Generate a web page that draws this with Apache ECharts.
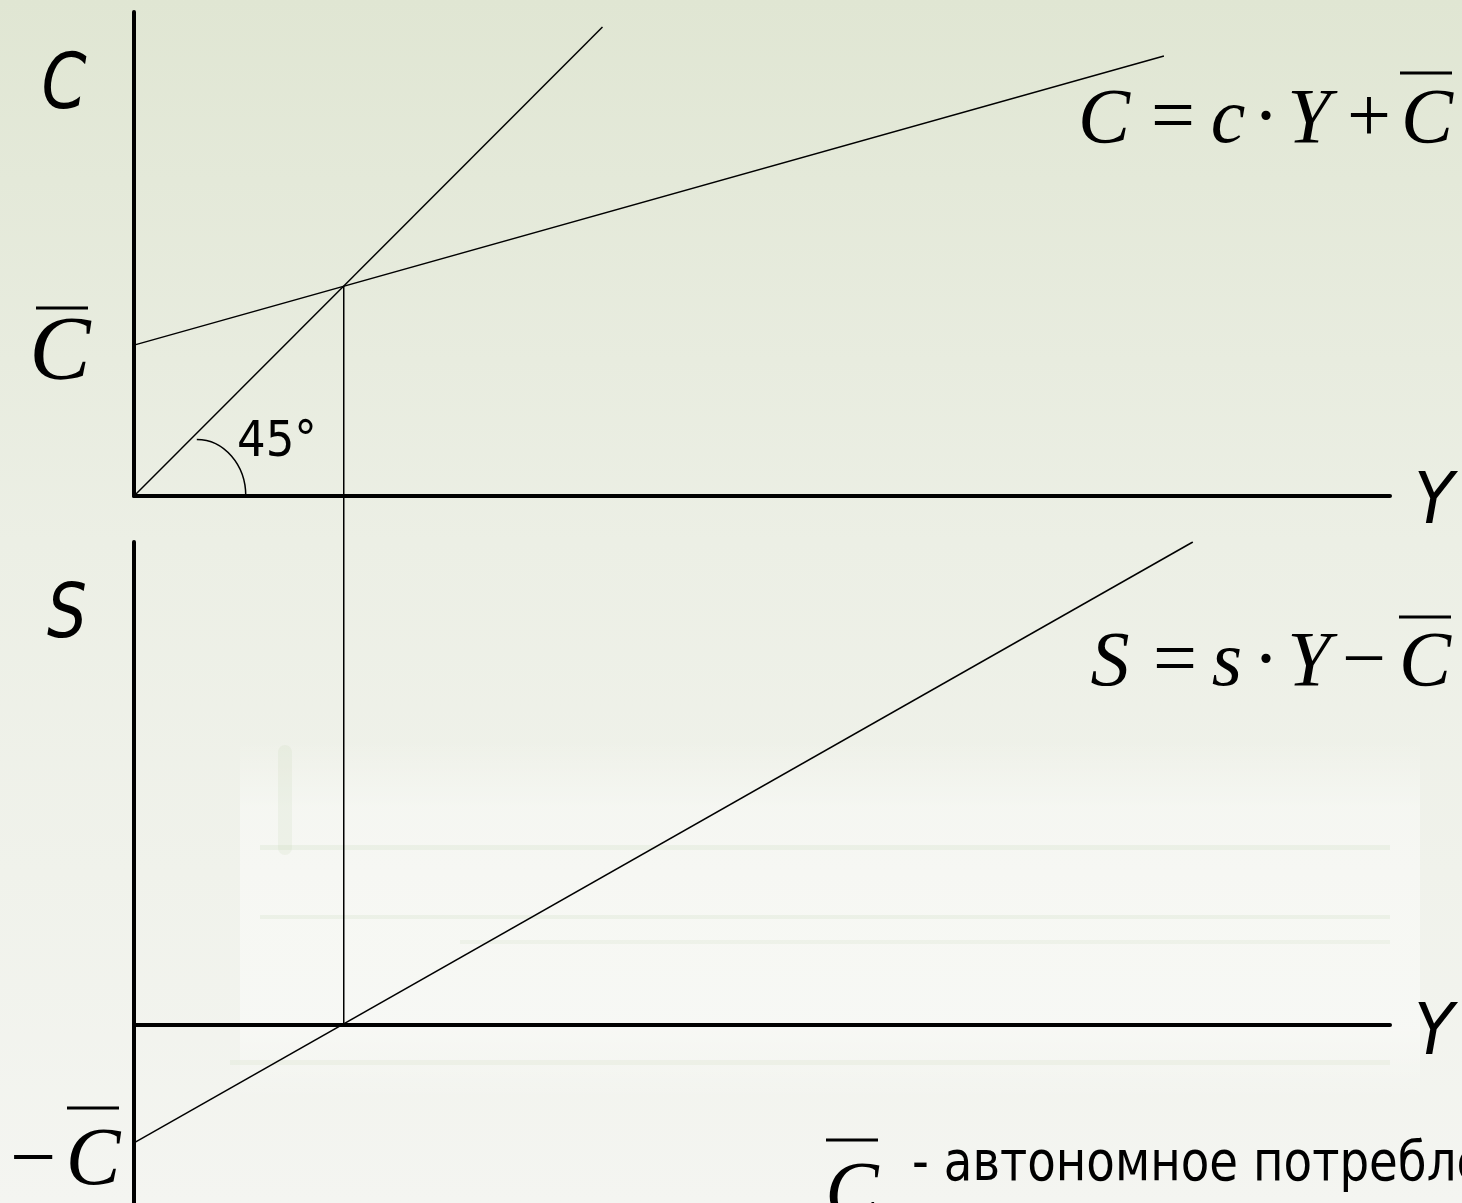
<!DOCTYPE html>
<html>
<head>
<meta charset="utf-8">
<script src="https://cdn.jsdelivr.net/npm/echarts@6/dist/echarts.min.js"></script>
<style>
  html, body { margin: 0; padding: 0; }
  #chart { width: 1462px; height: 1203px; }
</style>
</head>
<body>
<div id="chart"></div>
<script>
// income axis runs 0..100, both panels share the same scale (45° line stays at 45°)
var incomeMax = 100;
var consMax = 38.5;
var savMin = -14.2;
var savMax = 38.5;

var line45 = [[0, 0], [37.3, 37.3]];
var consumption = [[0, 12], [82, 35]];      // C = c*Y + C̄
var saving = [[0, -9.4], [84.3, 38.5]];     // S = s*Y - C̄
var dropLine = [[16.7, 16.7], [16.7, -42.1]];
var angleArc = [[5, 0, 3.9, 4.5]];          // centre x, centre y, radius x, radius y

var sansItalic = function (size) {
  return "italic " + size + 'px "DejaVu Sans", sans-serif';
};
var sans = function (size) {
  return size + 'px "DejaVu Sans", sans-serif';
};
var serifItalic = function (size) {
  return "italic " + size + 'px "Liberation Serif", "DejaVu Serif", serif';
};
var serif = function (size) {
  return size + 'px "Liberation Serif", "DejaVu Serif", serif';
};

// sx squeezes the glyphs horizontally (the slide font is narrower than DejaVu)
function txt(text, x, y, font, align, sx) {
  align = align || "center";
  return {
    type: "text",
    silent: true,
    z: 10,
    x: x,
    y: y,
    scaleX: sx || 1,
    style: {
      text: text, x: 0, y: 0, font: font, fill: "#000",
      align: align, verticalAlign: "middle",
      textAlign: align, textVerticalAlign: "middle"
    }
  };
}
function bar(x1, x2, y) {
  return {
    type: "line",
    silent: true,
    z: 10,
    shape: { x1: x1, y1: y, x2: x2, y2: y },
    style: { stroke: "#000", lineWidth: 3 }
  };
}
function streak(x, y, w, h, a) {
  return { type: "rect", z: -10, silent: true, shape: { x: x, y: y, width: w, height: h },
    style: { fill: "rgba(205,218,190," + a + ")" } };
}

var graphics = [
  // faint paper stack in the background
  { type: "rect", z: -11, silent: true, shape: { x: 240, y: 740, width: 1180, height: 360 },
    style: { fill: new echarts.graphic.LinearGradient(0, 0, 0, 1, [
      { offset: 0, color: "rgba(255,255,255,0)" },
      { offset: 0.2, color: "rgba(255,255,255,0.4)" },
      { offset: 0.8, color: "rgba(255,255,255,0.4)" },
      { offset: 1, color: "rgba(255,255,255,0)" }
    ]) } },
  streak(260, 845, 1130, 5, 0.25),
  streak(260, 915, 1130, 4, 0.25),
  streak(460, 940, 930, 4, 0.2),
  streak(230, 1060, 1160, 5, 0.2),
  { type: "rect", z: -10, silent: true, shape: { x: 278, y: 745, width: 14, height: 110, r: 7 },
    style: { fill: "rgba(190,205,170,0.15)" } },

  txt("C", 64, 88, sansItalic(76), "center", 0.85),
  txt("S", 67, 618, sansItalic(74), "center", 0.85),
  txt("Y", 1434, 504, sansItalic(72), "center", 0.9),
  txt("Y", 1434, 1035, sansItalic(72), "center", 0.9),
  txt("45°", 237, 443, sans(49), "left", 0.92),

  // C̄ on the consumption axis
  txt("C", 60, 355, serifItalic(92)),
  bar(36, 88, 308),

  // −C̄ on the saving axis
  txt("−", 33, 1162, serif(82)),
  txt("C", 93, 1162, serifItalic(82)),
  bar(67, 119, 1108),

  // C = c·Y + C̄
  txt("C", 1104, 121, serifItalic(78)),
  txt("=", 1173, 121, serif(78)),
  txt("c", 1228, 121, serifItalic(78)),
  txt("·", 1266, 121, serif(78)),
  txt("Y", 1309, 121, serifItalic(78)),
  txt("+", 1369, 121, serif(78)),
  txt("C", 1427, 121, serifItalic(78)),
  bar(1400, 1452, 73),

  // S = s·Y − C̄
  txt("S", 1110, 664, serifItalic(78)),
  txt("=", 1175, 664, serif(78)),
  txt("s", 1227, 664, serifItalic(78)),
  txt("·", 1266, 664, serif(78)),
  txt("Y", 1309, 664, serifItalic(78)),
  txt("−", 1364, 664, serif(78)),
  txt("C", 1425, 664, serifItalic(78)),
  bar(1399, 1451, 617),

  // legend
  txt("C", 852, 1196, serifItalic(80)),
  bar(826, 878, 1140),
  txt("- автономное потребление", 912, 1166, sans(55), "left", 0.85)
];

var axisStyle = { show: true, onZero: true, lineStyle: { color: "#000", width: 4 } };

var myChart = echarts.init(document.getElementById("chart"));
var option = {
  animation: false,
  backgroundColor: new echarts.graphic.LinearGradient(0, 0, 0, 1, [
    { offset: 0, color: "#e0e6d3" },
    { offset: 0.45, color: "#ecefe5" },
    { offset: 1, color: "#f4f5f1" }
  ]),
  grid: [
    { left: 134, right: 72, top: 12, bottom: 707 },
    { left: 134, right: 72, top: 542, bottom: -1 }
  ],
  xAxis: [
    { type: "value", gridIndex: 0, min: 0, max: incomeMax, axisLine: axisStyle,
      axisTick: { show: false }, axisLabel: { show: false }, splitLine: { show: false } },
    { type: "value", gridIndex: 1, min: 0, max: incomeMax, axisLine: axisStyle,
      axisTick: { show: false }, axisLabel: { show: false }, splitLine: { show: false } }
  ],
  yAxis: [
    { type: "value", gridIndex: 0, min: 0, max: consMax, axisLine: axisStyle,
      axisTick: { show: false }, axisLabel: { show: false }, splitLine: { show: false } },
    { type: "value", gridIndex: 1, min: savMin, max: savMax, axisLine: axisStyle,
      axisTick: { show: false }, axisLabel: { show: false }, splitLine: { show: false } }
  ],
  series: [
    { type: "line", xAxisIndex: 0, yAxisIndex: 0, data: line45, symbol: "none", silent: true,
      lineStyle: { color: "#000", width: 1.5 } },
    { type: "line", xAxisIndex: 0, yAxisIndex: 0, data: consumption, symbol: "none", silent: true,
      lineStyle: { color: "#000", width: 1.5 } },
    { type: "line", xAxisIndex: 0, yAxisIndex: 0, data: dropLine, symbol: "none", silent: true, clip: false,
      lineStyle: { color: "#000", width: 1.5 } },
    { type: "line", xAxisIndex: 1, yAxisIndex: 1, data: saving, symbol: "none", silent: true,
      lineStyle: { color: "#000", width: 1.5 } },
    {
      type: "custom", xAxisIndex: 0, yAxisIndex: 0, silent: true, clip: false,
      data: angleArc,
      renderItem: function (params, api) {
        var c = api.coord([api.value(0), api.value(1)]);
        var s = api.size([api.value(2), api.value(3)]);
        var rx = s[0], ry = s[1], k = 0.5523;
        return {
          type: "bezierCurve",
          shape: {
            x1: c[0], y1: c[1] - ry,
            cpx1: c[0] + k * rx, cpy1: c[1] - ry,
            cpx2: c[0] + rx, cpy2: c[1] - k * ry,
            x2: c[0] + rx, y2: c[1]
          },
          style: { stroke: "#000", lineWidth: 1.5, fill: null }
        };
      }
    }
  ],
  graphic: graphics
};
option && myChart.setOption(option);
</script>
</body>
</html>
